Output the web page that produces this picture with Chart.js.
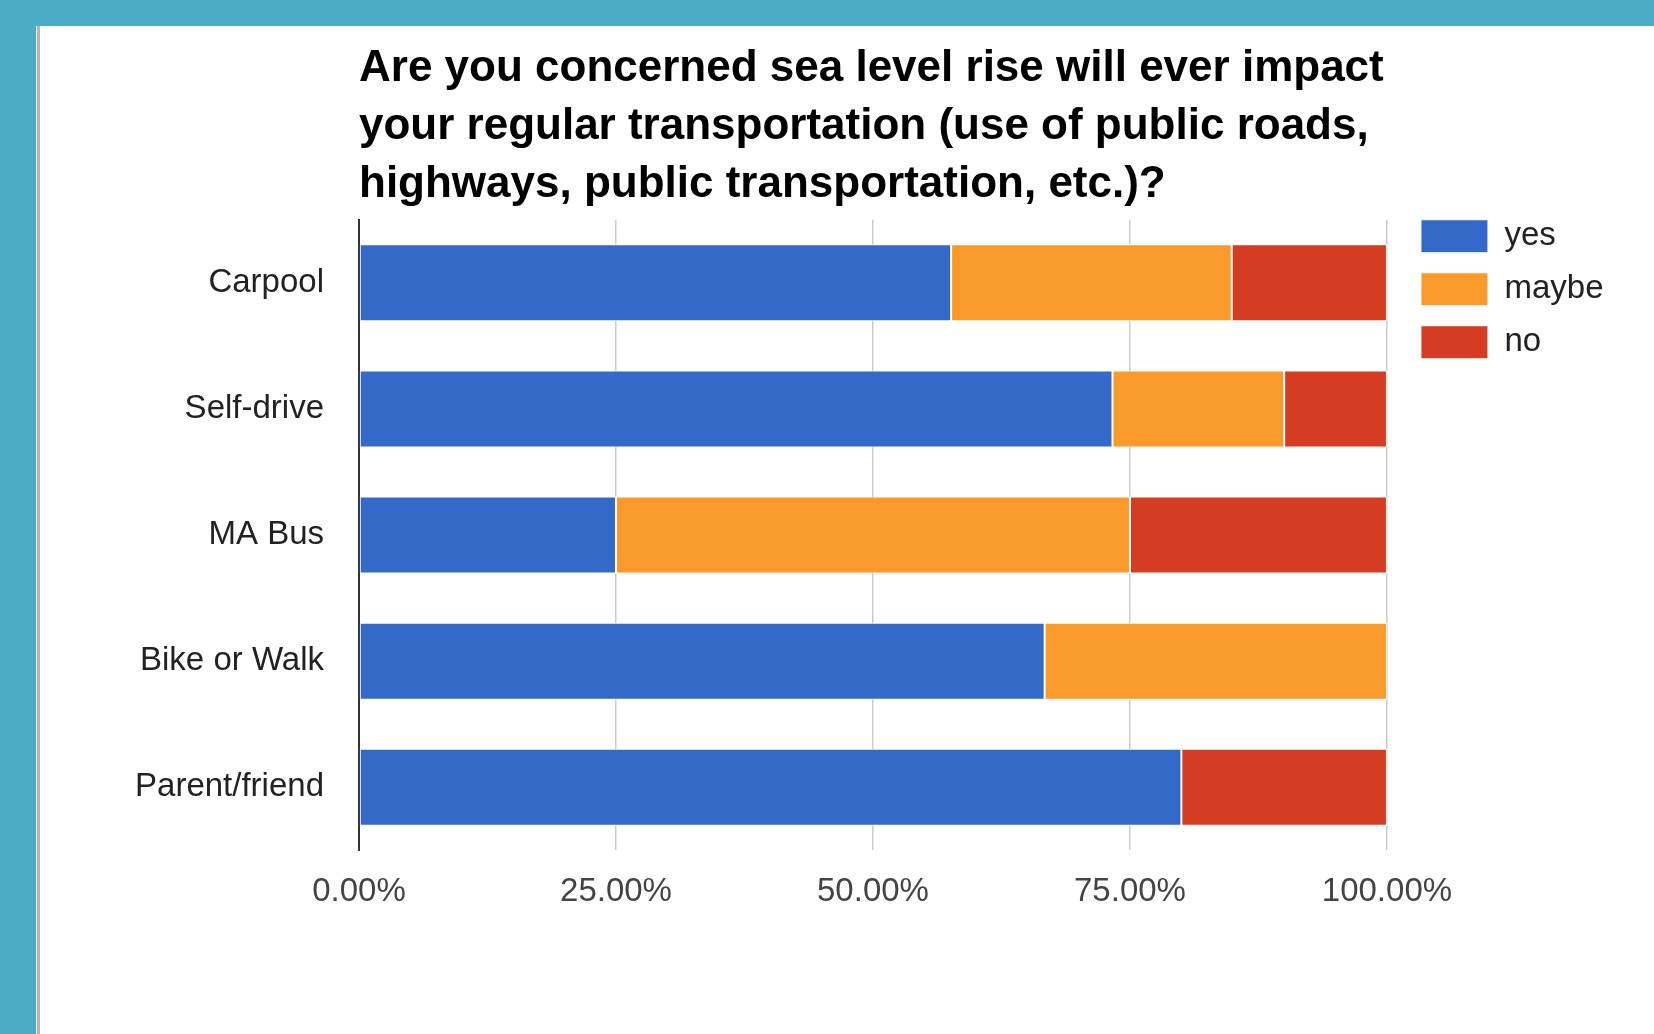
<!DOCTYPE html>
<html>
<head>
<meta charset="utf-8">
<script src="https://cdn.jsdelivr.net/npm/chart.js@4.4.1/dist/chart.umd.min.js"></script>
<style>
  html, body { margin: 0; padding: 0; background: #fff; }
  body { width: 1654px; height: 1034px; position: relative; overflow: hidden; }
  .frame-top { position: absolute; left: 0; top: 0; width: 1654px; height: 26px; background: #4aacc6; }
  .frame-left { position: absolute; left: 0; top: 0; width: 36px; height: 1034px; background: #4aacc6; }
  .frame-line { position: absolute; left: 37px; top: 26px; width: 3px; height: 1008px; background: #b4b4b4; }
  #wrap { position: absolute; left: 0; top: 0; width: 1654px; height: 1034px; }
</style>
</head>
<body>
<div class="frame-top"></div>
<div class="frame-left"></div>
<div class="frame-line"></div>
<div id="wrap"><canvas id="chart"></canvas></div>
<script>
// survey answers, percent of respondents per mode of transport
const categories = ['Carpool', 'Self-drive', 'MA Bus', 'Bike or Walk', 'Parent/friend'];
const yesValues = [57.6, 73.3, 25, 66.7, 80];
const maybeValues = [27.3, 16.7, 50, 33.3, 0];
const noValues = [15.1, 10, 25, 0, 20];
const xTickValues = [0, 25, 50, 75, 100];

const titleLines = [
    'Are you concerned sea level rise will ever impact',
    'your regular transportation (use of public roads,',
    'highways, public transportation, etc.)?'
];

Chart.defaults.font.family = '"Liberation Sans", Arial, sans-serif';

// google-style legend sits flush with the top of the plot
const legendNudge = {
    id: 'legendNudge',
    afterLayout(chart) {
        const lg = chart.legend;
        const w = lg.right - lg.left;
        lg.top = chart.chartArea.top - 20;
        lg.left = chart.chartArea.right + 14;
        lg.right = lg.left + w;
    }
};

function makeSet(label, data, color) {
    return {
        label: label,
        data: data,
        backgroundColor: color,
        borderColor: '#ffffff',
        borderWidth: 1,
        borderSkipped: false,
        categoryPercentage: 1,
        barPercentage: 0.61
    };
}

const ctx = document.getElementById('chart').getContext('2d');
new Chart(ctx, {
    type: 'bar',
    data: {
        labels: categories,
        datasets: [
            makeSet('yes', yesValues, '#3569c9'),
            makeSet('maybe', maybeValues, '#fa9a2a'),
            makeSet('no', noValues, '#d53c21')
        ]
    },
    plugins: [legendNudge],
    options: {
        indexAxis: 'y',
        responsive: true,
        maintainAspectRatio: false,
        animation: false,
        layout: {
            padding: { top: 40, left: 40, right: 54.5, bottom: 100 }
        },
        scales: {
            x: {
                stacked: true,
                min: 0,
                max: 100,
                afterBuildTicks: scale => {
                    scale.ticks = xTickValues.map(v => ({ value: v }));
                },
                grid: {
                    color: '#cccccc',
                    lineWidth: 1.5,
                    drawTicks: false
                },
                border: { display: false },
                ticks: {
                    padding: 22,
                    color: '#444444',
                    font: { size: 33 },
                    callback: v => v.toFixed(2) + '%'
                }
            },
            y: {
                stacked: true,
                afterFit: scale => { scale.width = 319; },
                grid: { display: false, drawTicks: false },
                border: { display: true, color: '#333333', width: 2 },
                ticks: {
                    padding: 35,
                    color: '#222222',
                    font: { size: 33 }
                }
            }
        },
        plugins: {
            title: {
                display: true,
                text: titleLines,
                align: 'start',
                fullSize: false,
                color: '#000000',
                font: { size: 44, weight: 'bold', lineHeight: 1.32 },
                padding: { top: 0, bottom: 5.5 }
            },
            legend: {
                position: 'right',
                align: 'start',
                labels: {
                    boxWidth: 67,
                    boxHeight: 33,
                    padding: 20,
                    color: '#222222',
                    font: { size: 33 }
                }
            },
            tooltip: { enabled: false }
        }
    }
});
</script>
</body>
</html>
